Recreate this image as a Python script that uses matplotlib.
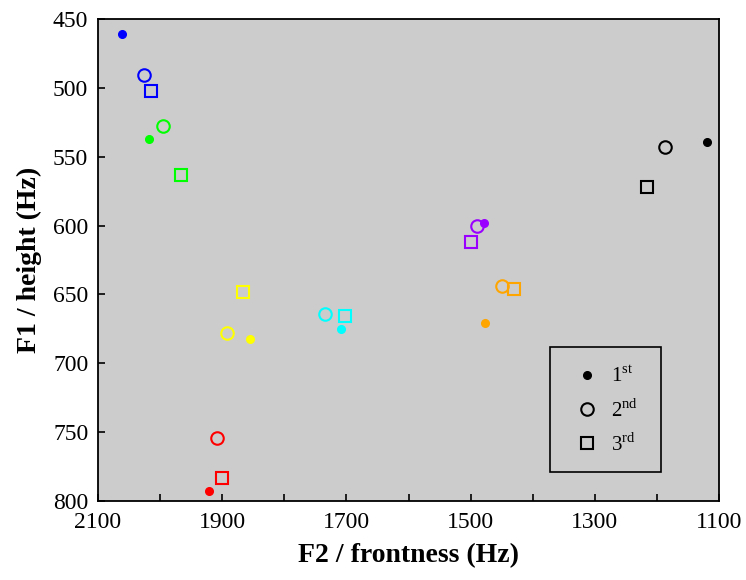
import matplotlib
matplotlib.use("Agg")
import matplotlib.pyplot as plt
from matplotlib.lines import Line2D
from matplotlib.patches import Rectangle
from matplotlib.ticker import MultipleLocator, FuncFormatter

plt.rcParams['font.family'] = ['Liberation Serif', 'DejaVu Serif']
plt.rcParams['mathtext.fontset'] = 'custom'
plt.rcParams['mathtext.rm'] = 'Liberation Serif'

# vowel colours
colors = ['#0000ff', '#00ff00', '#ffff00', '#00ffff', '#ff0000', '#9900ff', '#ffa500', '#000000']

# 1st measurement (F2, F1) per vowel
f2_1st = [2062, 2018, 1855, 1709, 1921, 1478, 1477, 1120]
f1_1st = [461, 537, 682, 675, 793, 598, 671, 539]

# 2nd
f2_2nd = [2026, 1996, 1893, 1734, 1909, 1489, 1449, 1187]
f1_2nd = [491, 528, 678, 664, 754, 600, 644, 543]

# 3rd
f2_3rd = [2014, 1966, 1866, 1703, 1901, 1500, 1430, 1216]
f1_3rd = [502, 563, 648, 666, 783, 612, 646, 572]

legend_labels = ['1$^{\\mathrm{st}}$', '2$^{\\mathrm{nd}}$', '3$^{\\mathrm{rd}}$']

fig = plt.figure(figsize=(7.46, 5.8), dpi=100)
ax = fig.add_axes([0.1314, 0.1362, 0.8324, 0.831])
ax.set_facecolor('#cccccc')

for i in range(len(colors)):
    ax.plot(f2_1st[i], f1_1st[i], 'o', color=colors[i], markersize=5.5, zorder=3)
    ax.plot(f2_2nd[i], f1_2nd[i], 'o', markerfacecolor='none', markeredgecolor=colors[i],
            markersize=9, markeredgewidth=1.5, zorder=3)
    ax.plot(f2_3rd[i], f1_3rd[i], 's', markerfacecolor='none', markeredgecolor=colors[i],
            markersize=8, markeredgewidth=1.5, zorder=3)

ax.set_xlim(2100, 1100)
ax.set_ylim(800, 450)

ax.xaxis.set_major_locator(MultipleLocator(100))
ax.xaxis.set_major_formatter(FuncFormatter(lambda v, p: '%d' % v if int(round(v)) % 200 == 100 else ''))
ax.yaxis.set_major_locator(MultipleLocator(50))
ax.tick_params(direction='in', length=5, width=1.2, labelsize=17, pad=7)
ax.tick_params(axis='x', pad=8)

for s in ax.spines.values():
    s.set_linewidth(1.3)

ax.set_xlabel('F2 / frontness (Hz)', fontsize=20, fontweight='bold', labelpad=7)
ax.set_ylabel('F1 / height (Hz)', fontsize=20, fontweight='bold', labelpad=8)

# legend: box drawn separately, entries without frame
ax.add_patch(Rectangle((0.728, 0.0602), 0.1786, 0.2593, transform=ax.transAxes,
                       facecolor='none', edgecolor='black', linewidth=1.2, zorder=4))
handles = [
    Line2D([], [], marker='o', linestyle='none', color='black', markersize=5.5),
    Line2D([], [], marker='o', linestyle='none', markerfacecolor='none', markeredgecolor='black',
           markersize=9, markeredgewidth=1.5),
    Line2D([], [], marker='s', linestyle='none', markerfacecolor='none', markeredgecolor='black',
           markersize=8, markeredgewidth=1.5),
]
leg = ax.legend(handles, legend_labels, loc='upper left', bbox_to_anchor=(0.7707, 0.2796),
                fontsize=15, frameon=False, borderpad=0, labelspacing=0.55,
                handlelength=1.0, handletextpad=0.65, borderaxespad=0)

fig.savefig('out.png', dpi=100)
